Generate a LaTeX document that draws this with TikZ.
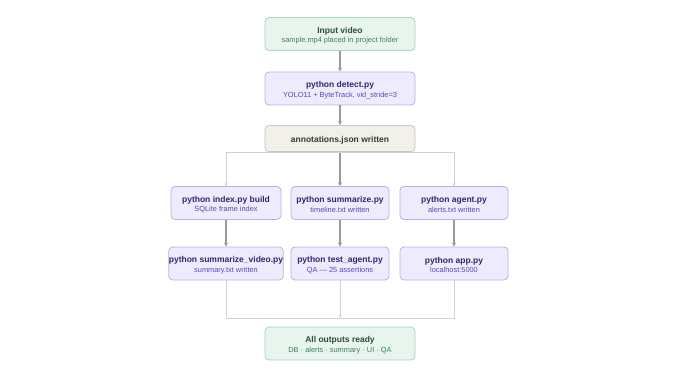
\documentclass[tikz,border=0pt]{standalone}
\usepackage{fontspec}
\setmainfont{Liberation Sans}
\usepackage{xcolor}
\usetikzlibrary{arrows.meta}
\definecolor{mintfill}{HTML}{E7F5EE}
\definecolor{mintline}{HTML}{A5D6BF}
\definecolor{minttitle}{HTML}{2F4A40}
\definecolor{minttext}{HTML}{3F7D62}
\definecolor{lilacfill}{HTML}{EEECFC}
\definecolor{lilacline}{HTML}{B7AFEA}
\definecolor{lilactitle}{HTML}{2C2870}
\definecolor{lilactext}{HTML}{5548B8}
\definecolor{sandfill}{HTML}{F1F0EA}
\definecolor{sandline}{HTML}{C8C5BA}
\definecolor{sandtext}{HTML}{3A3A35}
\definecolor{edge}{HTML}{9A9A9A}
\definecolor{faint}{HTML}{D2D2D2}
\newcommand{\boxhead}[1]{{\fontsize{8.5}{10}\selectfont\bfseries\rule{0pt}{9.5pt}#1}}
\newcommand{\boxnote}[2]{{\fontsize{7.4}{9}\selectfont\color{#1}#2}}

\begin{document}
\begin{tikzpicture}[x=1pt, y=-1pt,
    box/.style={draw, rounded corners=4pt, line width=0.8pt, align=center,
      inner sep=0pt, minimum height=33pt},
    mintbox/.style={box, fill=mintfill, draw=mintline, text=minttitle},
    lilacbox/.style={box, fill=lilacfill, draw=lilacline, text=lilactitle},
    sandbox/.style={box, fill=sandfill, draw=sandline, text=sandtext},
    flow/.style={draw=edge, line width=1.3pt, -{Stealth[length=4pt, width=4pt]}},
    branch/.style={draw=faint, line width=0.9pt}]
  \useasboundingbox (0,0) rectangle (680,384);

  % Pipeline head
  \node[mintbox, minimum width=150pt] (input) at (340,34)
    {\boxhead{Input video}\\[-2.5pt] \boxnote{minttext}{sample.mp4 placed in project folder}};
  \node[lilacbox, minimum width=150pt] (detect) at (340,88.5)
    {\boxhead{python detect.py}\\[-2.5pt] \boxnote{lilactext}{YOLO11 + ByteTrack, vid\_stride=3}};
  \node[sandbox, minimum width=150pt, minimum height=26pt] (annot) at (340,138.5)
    {\boxhead{annotations.json written}};

  % Three branches, first row
  \node[lilacbox, minimum width=110pt] (index) at (226,203)
    {\boxhead{python index.py build}\\[-2.5pt] \boxnote{lilactext}{SQLite frame index}};
  \node[lilacbox, minimum width=98pt] (summ) at (340,203)
    {\boxhead{python summarize.py}\\[-2.5pt] \boxnote{lilactext}{timeline.txt written}};
  \node[lilacbox, minimum width=108pt] (agent) at (454,203)
    {\boxhead{python agent.py}\\[-2.5pt] \boxnote{lilactext}{alerts.txt written}};

  % Second row
  \node[lilacbox, minimum width=110pt] (video) at (226,263.5)
    {\boxhead{python summarize\_video.py}\\[-2.5pt] \boxnote{lilactext}{summary.txt written}};
  \node[lilacbox, minimum width=98pt] (test) at (340,263.5)
    {\boxhead{python test\_agent.py}\\[-2.5pt] \boxnote{lilactext}{QA — 25 assertions}};
  \node[lilacbox, minimum width=108pt] (app) at (454,263.5)
    {\boxhead{python app.py}\\[-2.5pt] \boxnote{lilactext}{localhost:5000}};

  % Pipeline tail
  \node[mintbox, minimum width=150pt] (ready) at (340,343.5)
    {\boxhead{All outputs ready}\\[-2.5pt] \boxnote{minttext}{DB · alerts · summary · UI · QA}};

  % Main flow
  \draw[flow] (input) -- (detect);
  \draw[flow] (detect) -- (annot);
  \draw[flow] (annot) -- (summ);
  \draw[flow] (index) -- (video);
  \draw[flow] (summ) -- (test);
  \draw[flow] (agent) -- (app);

  % Fan-out and merge
  \coordinate (split) at (340,152.3);
  \coordinate (join) at (340,318);
  \draw[branch, -{Stealth[length=3pt, width=3pt]}] (split) -| (index.north);
  \draw[branch, -{Stealth[length=3pt, width=3pt]}] (split) -| (agent.north);
  \draw[branch] (video.south) |- (join);
  \draw[branch] (app.south) |- (join);
  \draw[branch, -{Stealth[length=3pt, width=3pt]}] (test.south) -- (join);
\end{tikzpicture}
\end{document}
